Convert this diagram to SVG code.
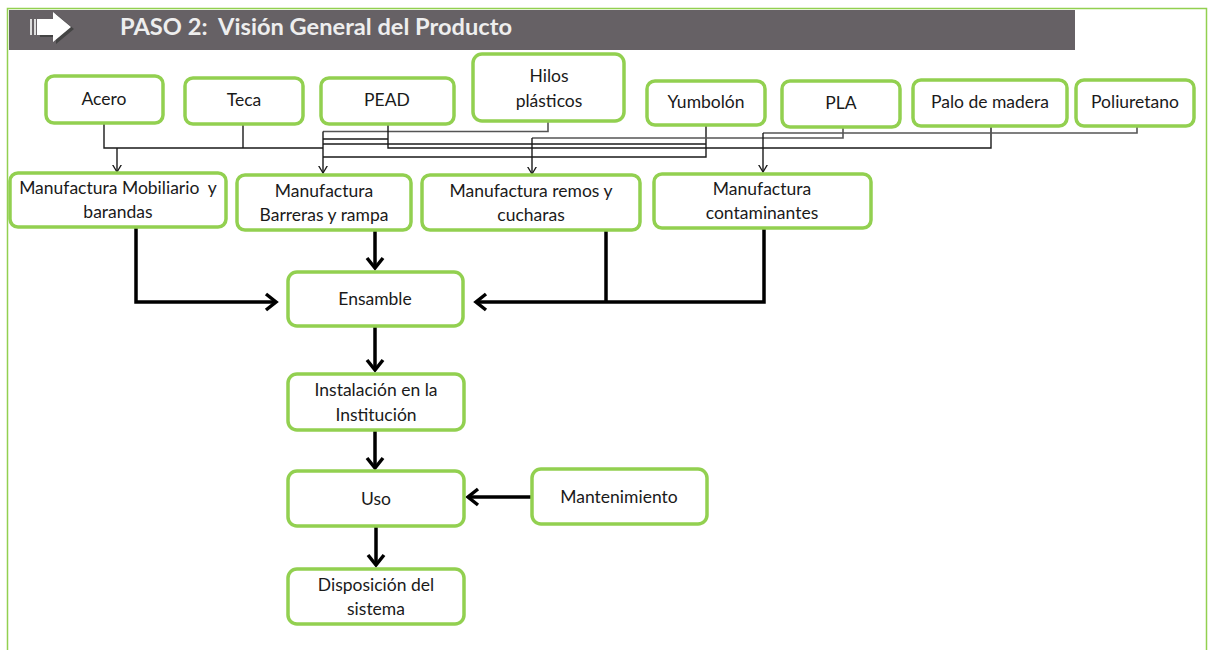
<svg xmlns="http://www.w3.org/2000/svg" width="1208" height="650" viewBox="0 0 1208 650" xml:space="preserve">
<defs>
<style>
.box{fill:#fff;stroke:#92D050;stroke-width:3.5}
.t{font-family:Lato,"Open Sans","Liberation Sans",sans-serif;font-size:17.5px;fill:#1a1a1a;text-anchor:middle;white-space:pre}
.thin{fill:none;stroke:#1a1a1a;stroke-width:1.4}
.gray{fill:none;stroke:#555;stroke-width:1.6}
.thick{fill:none;stroke:#000;stroke-width:3.5}
</style>
<marker id="ah" markerWidth="14" markerHeight="14" viewBox="-8 -8 16 16" refX="0" refY="0" orient="auto" markerUnits="userSpaceOnUse">
<path d="M-10,-6 L0,0 L-10,6" fill="none" stroke="#1a1a1a" stroke-width="1.5"/>
</marker>
<marker id="ahb" markerWidth="24" markerHeight="24" viewBox="-12 -12 24 24" refX="0" refY="0" orient="auto" markerUnits="userSpaceOnUse">
<path d="M-10,-8 L0,0 L-10,8" fill="none" stroke="#000" stroke-width="3.5"/>
</marker>
</defs>
<rect x="0" y="0" width="1208" height="650" fill="#fff"/>
<path d="M7.5,660 V8.5 H1206.5 V660" fill="none" stroke="#92D050" stroke-width="1.5"/>
<g id="header">
<rect x="9" y="10" width="1066" height="40" fill="#666165"/>
<rect x="30" y="19" width="2" height="16" fill="#ddd"/>
<rect x="34" y="19" width="2" height="16" fill="#ddd"/>
<polygon points="40,21 56,21 56,14 74,29 56,44 56,37 40,37" fill="#444"/>
<polygon points="37,19 53,19 53,12 71,27 53,42 53,35 37,35" fill="#fff"/>
<text x="120" y="35" font-family="Lato,'Open Sans','Liberation Sans',sans-serif" font-size="22.5" font-weight="bold" fill="#eeeeee" textLength="392" lengthAdjust="spacingAndGlyphs" style="white-space:pre">PASO 2:  Visión General del Producto</text>
</g>
<g id="connectors">
<polyline class="thin" points="104,123 104,148 323,148"/>
<line class="thin" x1="243" y1="124" x2="243" y2="148"/>
<line class="thin" x1="117" y1="148" x2="117" y2="172" marker-end="url(#ah)"/>
<polyline class="gray" points="548,121 548,131.5 323,131.5"/>
<line class="thin" x1="323" y1="131.5" x2="323" y2="173" marker-end="url(#ah)"/>
<polyline class="thin" points="388,124 388,148 991,148 991,126"/>
<line class="thin" x1="323" y1="139" x2="388" y2="139"/>
<polyline class="thin" points="323,144 706,144"/>
<polyline class="thin" points="323,157 706,157 706,125"/>
<polyline class="gray" points="843,127 843,138 532,138"/>
<line class="thin" x1="532" y1="138" x2="532" y2="174" marker-end="url(#ah)"/>
<polyline class="gray" points="1137,126 1137,133 763,133"/>
<line class="thin" x1="763" y1="133" x2="763" y2="172" marker-end="url(#ah)"/>
<polyline class="thick" points="136,228 136,302 276,302" marker-end="url(#ahb)"/>
<line class="thick" x1="375" y1="231" x2="375" y2="268" marker-end="url(#ahb)"/>
<polyline class="thick" points="764,229 764,302 476,302" marker-end="url(#ahb)"/>
<line class="thick" x1="606" y1="231" x2="606" y2="302"/>
<line class="thick" x1="375" y1="327" x2="375" y2="370" marker-end="url(#ahb)"/>
<line class="thick" x1="375" y1="431" x2="375" y2="468" marker-end="url(#ahb)"/>
<line class="thick" x1="376" y1="527" x2="376" y2="565" marker-end="url(#ahb)"/>
<line class="thick" x1="531" y1="497" x2="468" y2="497" marker-end="url(#ahb)"/>
</g>
<g id="acero"><rect class="box" x="46" y="76" width="117" height="47" rx="8"/><text class="t" x="104" y="105">Acero</text></g>
<g id="teca"><rect class="box" x="185" y="78" width="118" height="46" rx="8"/><text class="t" x="244" y="106">Teca</text></g>
<g id="pead"><rect class="box" x="321" y="78" width="133" height="46" rx="8"/><text class="t" x="387" y="106">PEAD</text></g>
<g id="hilos"><rect class="box" x="473" y="54" width="151" height="67" rx="9"/><text class="t" x="549" y="82">Hilos</text><text class="t" x="549" y="107">plásticos</text></g>
<g id="yumbolon"><rect class="box" x="647" y="81" width="118" height="44" rx="8"/><text class="t" x="706" y="108">Yumbolón</text></g>
<g id="pla"><rect class="box" x="782" y="81" width="118" height="46" rx="8"/><text class="t" x="841" y="109">PLA</text></g>
<g id="palo"><rect class="box" x="913" y="80" width="154" height="46" rx="8"/><text class="t" x="990" y="108">Palo de madera</text></g>
<g id="poliuretano"><rect class="box" x="1076" y="80" width="118" height="46" rx="8"/><text class="t" x="1135" y="108">Poliuretano</text></g>
<g id="mobiliario"><rect class="box" x="10" y="173" width="216" height="54" rx="8"/><text class="t" x="118" y="194">Manufactura Mobiliario  y</text><text class="t" x="118" y="218">barandas</text></g>
<g id="barreras"><rect class="box" x="237" y="175" width="174" height="55" rx="8"/><text class="t" x="324" y="197">Manufactura</text><text class="t" x="324" y="221">Barreras y rampa</text></g>
<g id="remos"><rect class="box" x="422" y="175" width="218" height="55" rx="8"/><text class="t" x="531" y="197">Manufactura remos y</text><text class="t" x="531" y="221">cucharas</text></g>
<g id="contaminantes"><rect class="box" x="654" y="174" width="217" height="54" rx="8"/><text class="t" x="762" y="195">Manufactura</text><text class="t" x="762" y="219">contaminantes</text></g>
<g id="ensamble"><rect class="box" x="288" y="272" width="175" height="54" rx="9"/><text class="t" x="375" y="305">Ensamble</text></g>
<g id="instalacion"><rect class="box" x="288" y="374" width="176" height="56" rx="9"/><text class="t" x="376" y="396">Instalación en la</text><text class="t" x="376" y="421">Institución</text></g>
<g id="uso"><rect class="box" x="288" y="471" width="176" height="55" rx="9"/><text class="t" x="376" y="505">Uso</text></g>
<g id="mantenimiento"><rect class="box" x="532" y="469" width="175" height="55" rx="9"/><text class="t" x="619" y="503">Mantenimiento</text></g>
<g id="disposicion"><rect class="box" x="288" y="569" width="176" height="55" rx="9"/><text class="t" x="376" y="591">Disposición del</text><text class="t" x="376" y="615">sistema</text></g>
</svg>
